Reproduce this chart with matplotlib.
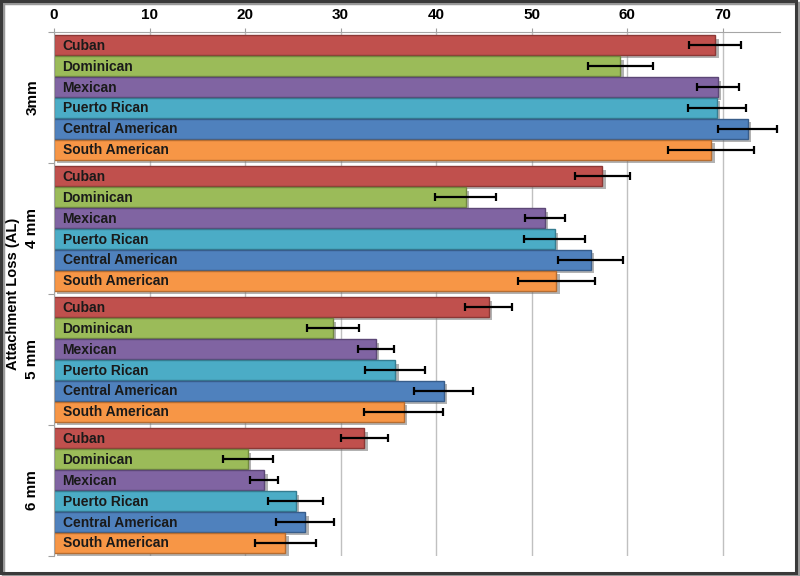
import numpy as np
import matplotlib.pyplot as plt
from matplotlib import patheffects as pe
from matplotlib.patches import Rectangle

plt.rcParams['font.family'] = ['Liberation Sans', 'DejaVu Sans']

# Data
groups = ['3mm', '4 mm', '5 mm', '6 mm']
ethnicities = ['Cuban', 'Dominican', 'Mexican', 'Puerto Rican',
               'Central American', 'South American']
al_3mm = [69.2, 59.3, 69.5, 69.4, 72.6, 68.8]
err_3mm = [2.7, 3.4, 2.2, 3.0, 3.1, 4.5]
al_4mm = [57.4, 43.1, 51.4, 52.4, 56.2, 52.6]
err_4mm = [2.9, 3.2, 2.1, 3.15, 3.4, 4.0]
al_5mm = [45.5, 29.2, 33.7, 35.7, 40.8, 36.6]
err_5mm = [2.45, 2.7, 1.85, 3.15, 3.1, 4.15]
al_6mm = [32.5, 20.3, 22.0, 25.3, 26.3, 24.2]
err_6mm = [2.45, 2.65, 1.5, 2.9, 3.05, 3.2]
xticks = [0, 10, 20, 30, 40, 50, 60, 70]

colors = ['#C0504D', '#9BBB59', '#8064A2', '#4BACC6', '#4F81BD', '#F79646']
edges = ['#8C3836', '#71893F', '#5C4776', '#357D91', '#385D8A', '#B66D31']

values = [al_3mm, al_4mm, al_5mm, al_6mm]
errors = [err_3mm, err_4mm, err_5mm, err_6mm]

fig = plt.figure(figsize=(8, 5.76), dpi=100)
ax = fig.add_axes([0.0675, 0.0347, 0.9075, 0.910])

span = 6.26          # slots per group
pad = (span - 6) / 2
shadow = [pe.SimplePatchShadow(offset=(2.5, -2.5), shadow_rgbFace='0.45', alpha=0.55),
          pe.Normal()]

for g in range(len(groups)):
    ys = g * span + pad + np.arange(len(ethnicities)) + 0.5
    bars = ax.barh(ys, values[g], height=0.94, color=colors, edgecolor=edges,
                   linewidth=1, zorder=2)
    for b in bars:
        b.set_path_effects(shadow)
    ax.errorbar(values[g], ys, xerr=errors[g], fmt='none', ecolor='black',
                elinewidth=1.6, capsize=2.6, capthick=1.6, zorder=4)
    for y, name in zip(ys, ethnicities):
        ax.text(0.9, y + 0.03, name, va='center', ha='left', fontsize=10,
                fontweight='bold', color='#1a1a1a', zorder=5)
    ax.text(-0.030, 1 - (g + 0.5) / len(groups), groups[g], transform=ax.transAxes,
            rotation=90, va='center', ha='center', fontsize=11, fontweight='bold')

ax.text(-0.0565, 0.5, 'Attachment Loss (AL)', transform=ax.transAxes, rotation=90,
        va='center', ha='center', fontsize=10.5, fontweight='bold')

ax.set_xlim(0, 76)
ax.set_ylim(len(groups) * span, 0)
ax.set_xticks(xticks)
ax.xaxis.tick_top()
ax.tick_params(axis='x', length=3, color='#a0a0a0', pad=4, labelsize=11)
for lbl in ax.get_xticklabels():
    lbl.set_fontweight('bold')
ax.set_yticks(np.arange(len(groups) + 1) * span)
ax.set_yticklabels([])
ax.tick_params(axis='y', length=4, color='#a0a0a0')

ax.xaxis.grid(True, color='#c0c0c0', linewidth=1)
ax.set_axisbelow(True)
for side in ['right', 'bottom']:
    ax.spines[side].set_visible(False)
ax.spines['top'].set_color('#a6a6a6')
ax.spines['left'].set_color('#a6a6a6')

# outer frame
fig.patches.append(Rectangle((0.004, 0.0), 0.994, 0.995, transform=fig.transFigure,
                             fill=False, edgecolor='#9a9a9a', linewidth=2.5))
fig.patches.append(Rectangle((0.0015, 0.006), 0.994, 0.992, transform=fig.transFigure,
                             fill=False, edgecolor='#3a3a3a', linewidth=2.2))

fig.savefig('out.png', dpi=100)
